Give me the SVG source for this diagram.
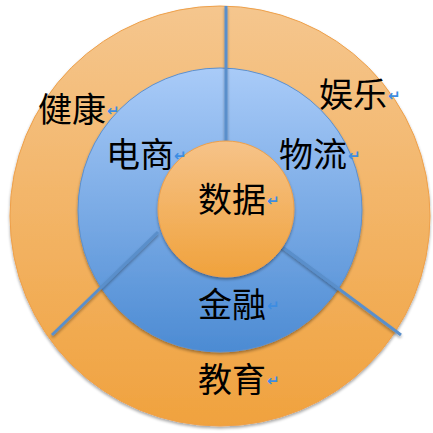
<svg xmlns="http://www.w3.org/2000/svg" width="433" height="433" viewBox="0 0 433 433">
<defs>
<linearGradient id="gOrange" x1="0" y1="0" x2="0" y2="1">
<stop offset="0" stop-color="#f5c68e"/>
<stop offset="1" stop-color="#f0a23e"/>
</linearGradient>
<linearGradient id="gBlue" x1="0" y1="0" x2="0" y2="1">
<stop offset="0" stop-color="#a9cbf8"/>
<stop offset="1" stop-color="#4c8bd3"/>
</linearGradient>
<linearGradient id="gInner" x1="0" y1="0" x2="0" y2="1">
<stop offset="0" stop-color="#f6c389"/>
<stop offset="1" stop-color="#f0a23c"/>
</linearGradient>
<filter id="sh" x="-10%" y="-10%" width="120%" height="120%">
<feGaussianBlur in="SourceAlpha" stdDeviation="1.5"/>
<feOffset dx="0" dy="1.5" result="b"/>
<feComponentTransfer><feFuncA type="linear" slope="0.35"/></feComponentTransfer>
<feMerge><feMergeNode/><feMergeNode in="SourceGraphic"/></feMerge>
</filter>
</defs>
<style>
.lbl{font-family:"Noto Sans CJK SC","Noto Sans CJK JP",sans-serif;font-size:34px;fill:#000;}
.ret{font-family:"DejaVu Sans",sans-serif;font-size:15px;fill:#3d8de2;font-weight:bold;}
.conn{stroke:#5a8fcb;stroke-width:3;fill:none;stroke-linecap:butt;}
</style>
<g id="outer-ring" filter="url(#sh)">
<circle cx="220" cy="216" r="210" fill="url(#gOrange)" stroke="#eea04a" stroke-width="1"/>
</g>
<g id="middle-ring" filter="url(#sh)">
<circle cx="220" cy="210" r="142" fill="url(#gBlue)" stroke="#5c90cf" stroke-width="1"/>
</g>
<g id="connectors" filter="url(#sh)">
<line class="conn" x1="226" y1="6" x2="226" y2="142"/>
<line class="conn" x1="281" y1="246" x2="401" y2="335"/>
<line class="conn" x1="158" y1="232" x2="52" y2="335"/>
</g>
<g id="inner-core" filter="url(#sh)">
<circle cx="226" cy="209" r="68" fill="url(#gInner)" stroke="#eea04a" stroke-width="1"/>
</g>
<g id="node-jiankang"><text class="lbl" x="38" y="122">健康</text><text class="ret" x="107" y="116">↵</text></g>
<g id="node-yule"><text class="lbl" x="319" y="107">娱乐</text><text class="ret" x="388" y="101">↵</text></g>
<g id="node-dianshang"><text class="lbl" x="106" y="167">电商</text><text class="ret" x="174" y="161">↵</text></g>
<g id="node-wuliu"><text class="lbl" x="279" y="167">物流</text><text class="ret" x="348" y="161">↵</text></g>
<g id="node-shuju"><text class="lbl" x="198" y="212">数据</text><text class="ret" x="267" y="206">↵</text></g>
<g id="node-jinrong"><text class="lbl" x="198" y="317">金融</text><text class="ret" x="267" y="311">↵</text></g>
<g id="node-jiaoyu"><text class="lbl" x="198" y="392">教育</text><text class="ret" x="267" y="386">↵</text></g>
</svg>
